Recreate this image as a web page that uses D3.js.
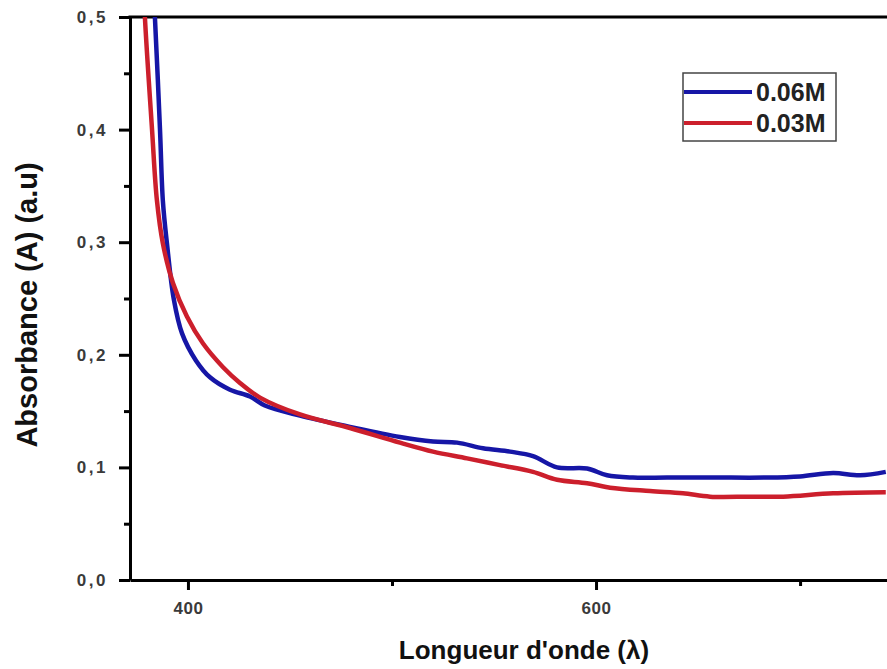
<!DOCTYPE html>
<html>
<head>
<meta charset="utf-8">
<script src="https://cdn.jsdelivr.net/npm/d3@7"></script>
<style>
  body { margin: 0; background: #fff; }
  svg { display: block; font-family: 'Liberation Sans', Arial, sans-serif; }
</style>
</head>
<body>
<div id="chart"></div>
<script>
var width = 887;
var height = 669;

// wavelength (nm) and absorbance
var lambda06 = [382.8, 383.8, 386.3, 387.7, 389.7, 393.1, 397.1, 403.9, 410.8, 420.6, 430.4,
  437.7, 454.9, 479.4, 503.9, 520.1, 531.9, 544.6, 557.8, 569.1, 580.9, 595.6, 605.4, 618.1, 634.8,
  657.4, 683.8, 700.0, 716.2, 729.4, 742.0];
var abs06 = [0.53, 0.5, 0.400, 0.337, 0.299, 0.249, 0.219, 0.195, 0.180, 0.169, 0.163,
  0.155, 0.146, 0.136, 0.127, 0.123, 0.122, 0.117, 0.114, 0.110, 0.100, 0.099, 0.093, 0.091, 0.091,
  0.091, 0.091, 0.092, 0.095, 0.093, 0.096];

var lambda03 = [378.3, 378.9, 382.4, 384.8, 387.7, 392.6, 399.5, 407.4, 417.2, 425.5, 435.3,
  454.9, 479.4, 503.9, 520.1, 536.8, 552.9, 569.1, 580.9, 595.6, 606.9, 626.5, 642.6, 655.9,
  675.5, 691.7, 716.2, 742.0];
var abs03 = [0.53, 0.5, 0.400, 0.337, 0.299, 0.264, 0.234, 0.210, 0.189, 0.175, 0.162,
  0.147, 0.135, 0.122, 0.114, 0.108, 0.102, 0.096, 0.089, 0.086, 0.082, 0.079, 0.077, 0.074,
  0.074, 0.074, 0.077, 0.078];

var seriesNames = ['0.06M', '0.03M'];
var seriesColors = ['#1616a6', '#cc1f2c'];

var yTicks = [0, 0.1, 0.2, 0.3, 0.4, 0.5];
var yMinor = [0.05, 0.15, 0.25, 0.35, 0.45];
var xTicks = [400, 600];
var xMinor = [500, 700];

var plotLeft = 130, plotTop = 17, plotBottom = 580;

var svg = d3.select('#chart').append('svg')
  .attr('width', width)
  .attr('height', height);

var x = d3.scaleLinear().domain([371.6, 742.6]).range([plotLeft, width]);
var y = d3.scaleLinear().domain([0, 0.5]).range([plotBottom, plotTop]);

svg.append('defs').append('clipPath').attr('id', 'clip')
  .append('rect')
  .attr('x', plotLeft).attr('y', plotTop)
  .attr('width', width - plotLeft).attr('height', plotBottom - plotTop);

var fmt = function(d) { return d.toFixed(1).replace('.', ','); };

// y axis
var yAxis = svg.append('g').attr('transform', 'translate(' + plotLeft + ',0)');
yAxis.call(d3.axisLeft(y).tickValues(yTicks).tickFormat(fmt).tickSize(11).tickSizeOuter(0));
yAxis.append('g').call(d3.axisLeft(y).tickValues(yMinor).tickFormat('').tickSize(6).tickSizeOuter(0))
  .select('.domain').remove();

// x axis
var xAxis = svg.append('g').attr('transform', 'translate(0,' + plotBottom + ')');
xAxis.call(d3.axisBottom(x).tickValues(xTicks).tickFormat(d3.format('d')).tickSize(10).tickSizeOuter(0));
xAxis.append('g').call(d3.axisBottom(x).tickValues(xMinor).tickFormat('').tickSize(6).tickSizeOuter(0))
  .select('.domain').remove();

svg.selectAll('.domain').attr('stroke', '#000').attr('stroke-width', 3);
svg.selectAll('.tick line').attr('stroke', '#000').attr('stroke-width', 3);
yAxis.attr('font-size', 17).attr('font-weight', 'bold').attr('font-family', null);
yAxis.selectAll('.tick text').attr('x', -22).attr('fill', '#3a3a3a').attr('letter-spacing', 2.5);
xAxis.attr('font-size', 17).attr('font-weight', 'bold').attr('font-family', null);
xAxis.selectAll('.tick text').attr('y', 22).attr('fill', '#3a3a3a').attr('letter-spacing', 0.5);

// top frame line
svg.append('line')
  .attr('x1', plotLeft - 1.5).attr('x2', width)
  .attr('y1', plotTop).attr('y2', plotTop)
  .attr('stroke', '#000').attr('stroke-width', 3);

// curves
var line = d3.line()
  .x(function(d) { return x(d[0]); })
  .y(function(d) { return y(d[1]); })
  .curve(d3.curveCatmullRom.alpha(0.5));

var series = [d3.zip(lambda06, abs06), d3.zip(lambda03, abs03)];

svg.append('g').attr('clip-path', 'url(#clip)')
  .selectAll('path')
  .data(series)
  .enter().append('path')
  .attr('d', line)
  .attr('fill', 'none')
  .attr('stroke', function(d, i) { return seriesColors[i]; })
  .attr('stroke-width', 4.5)
  .attr('stroke-linejoin', 'round');

// legend
var legend = svg.append('g');
legend.append('rect')
  .attr('x', 683).attr('y', 73)
  .attr('width', 153).attr('height', 68)
  .attr('fill', '#fff').attr('stroke', '#444').attr('stroke-width', 1.5);

var items = legend.selectAll('.item')
  .data(seriesNames)
  .enter().append('g')
  .attr('class', 'item')
  .attr('transform', function(d, i) { return 'translate(0,' + (92 + i * 31) + ')'; });

items.append('line')
  .attr('x1', 684).attr('x2', 752)
  .attr('stroke', function(d, i) { return seriesColors[i]; })
  .attr('stroke-width', 4);

items.append('text')
  .attr('x', 756).attr('y', 9)
  .attr('font-size', 25).attr('font-weight', 'bold').attr('fill', '#222')
  .text(function(d) { return d; });

// axis titles
svg.append('text')
  .attr('x', 524).attr('y', 659)
  .attr('text-anchor', 'middle')
  .attr('font-size', 26).attr('font-weight', 'bold').attr('fill', '#111')
  .text("Longueur d'onde (λ)");

svg.append('text')
  .attr('transform', 'translate(37,305) rotate(-90)')
  .attr('text-anchor', 'middle')
  .attr('font-size', 29).attr('font-weight', 'bold').attr('fill', '#111')
  .text('Absorbance (A) (a.u)');
</script>
</body>
</html>
